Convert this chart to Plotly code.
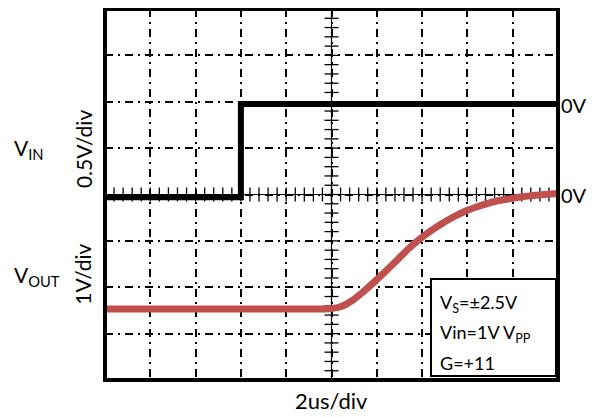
import plotly.graph_objects as go

# ---- data (time in us, traces in screen divisions) ----
vin_t = [0, 6.0, 6.0, 20]
vin_div = [-0.06, -0.06, 1.95, 1.95]

vout_t = [0, 2, 4, 6, 8, 9.5, 10.0, 10.4, 10.9, 11.4, 11.9, 12.4, 12.9, 13.4,
          13.9, 14.4, 14.9, 15.4, 15.9, 16.4, 16.9, 17.4, 17.9, 18.4, 18.9,
          19.4, 20]
vout_div = [-2.47, -2.47, -2.47, -2.47, -2.47, -2.47, -2.46, -2.42, -2.29,
            -2.10, -1.88, -1.65, -1.41, -1.17, -0.96, -0.78, -0.62, -0.48,
            -0.36, -0.27, -0.19, -0.13, -0.09, -0.05, -0.02, 0.0, 0.02]

x_range = [0, 20]
y_range = [-4, 4]
x_step = 2
y_step = 1

FONT = "Lato"
fig = go.Figure()

# centre axes with fine ticks
fig.add_trace(go.Scatter(x=x_range, y=[0, 0], mode="lines",
                         line=dict(color="black", width=1.2), hoverinfo="skip"))
fig.add_trace(go.Scatter(x=[10, 10], y=y_range, mode="lines",
                         line=dict(color="black", width=1.2), hoverinfo="skip"))
tx = [i * x_step / 5 for i in range(1, 50)]
fig.add_trace(go.Scatter(x=tx, y=[0] * len(tx), mode="markers",
                         marker=dict(symbol="line-ns", size=10,
                                     line=dict(width=1.3, color="black")),
                         hoverinfo="skip"))
ty = [-4 + i * y_step / 5 for i in range(1, 40)]
fig.add_trace(go.Scatter(x=[10] * len(ty), y=ty, mode="markers",
                         marker=dict(symbol="line-ew", size=10,
                                     line=dict(width=1.3, color="black")),
                         hoverinfo="skip"))

# signals
fig.add_trace(go.Scatter(x=vout_t, y=vout_div, mode="lines",
                         line=dict(color="#c0504d", width=7, shape="spline",
                                   smoothing=0.5)))
fig.add_trace(go.Scatter(x=vin_t, y=vin_div, mode="lines",
                         line=dict(color="black", width=6)))

dash = "8px,5px,2px,5px"
fig.update_xaxes(range=x_range, dtick=x_step, tick0=0, showgrid=True,
                 gridcolor="black", gridwidth=2, griddash=dash,
                 showticklabels=False, zeroline=False, ticks="")
fig.update_yaxes(range=y_range, dtick=y_step, tick0=-4, showgrid=True,
                 gridcolor="black", gridwidth=2, griddash=dash,
                 showticklabels=False, zeroline=False, ticks="")

shapes = [
    dict(type="rect", xref="paper", yref="paper", x0=0, y0=0, x1=1, y1=1,
         line=dict(color="black", width=4), layer="above"),
    dict(type="rect", xref="paper", yref="paper", x0=0.7196, y0=0.011,
         x1=0.9956, y1=0.272, line=dict(color="black", width=2),
         fillcolor="white", layer="above"),
]

def fnt(size):
    return dict(family=FONT, size=size, color="black")

ann = [
    dict(text="V<sub>IN</sub>", x=-0.205, y=0.98, xref="paper", yref="y",
         xanchor="left", yanchor="middle", showarrow=False, font=fnt(21)),
    dict(text="V<sub>OUT</sub>", x=-0.205, y=-1.75, xref="paper", yref="y",
         xanchor="left", yanchor="middle", showarrow=False, font=fnt(21)),
    dict(text="0.5V/div", x=-0.0486, y=1.0, xref="paper", yref="y",
         xanchor="center", yanchor="middle", textangle=-90,
         showarrow=False, font=fnt(21)),
    dict(text="1V/div", x=-0.0486, y=-1.71, xref="paper", yref="y",
         xanchor="center", yanchor="middle", textangle=-90,
         showarrow=False, font=fnt(21)),
    dict(text="0V", x=1, y=1.94, xref="paper", yref="y", xanchor="left",
         yanchor="middle", xshift=1, showarrow=False, font=fnt(20)),
    dict(text="0V", x=1, y=0.0, xref="paper", yref="y", xanchor="left",
         yanchor="middle", xshift=1, showarrow=False, font=fnt(20)),
    dict(text="2us/div", x=0.5, y=-0.055, xref="paper", yref="paper",
         xanchor="center", yanchor="middle", showarrow=False, font=fnt(22)),
    dict(text="V<sub>S</sub>=±2.5V", x=0.735, y=0.205, xref="paper",
         yref="paper", xanchor="left", yanchor="middle", showarrow=False,
         font=fnt(18)),
    dict(text="Vin=1V V<sub>PP</sub>", x=0.735, y=0.125, xref="paper",
         yref="paper", xanchor="left", yanchor="middle", showarrow=False,
         font=fnt(18)),
    dict(text="G=+11", x=0.735, y=0.046, xref="paper", yref="paper",
         xanchor="left", yanchor="middle", showarrow=False, font=fnt(18)),
]

# page body adds an 8px offset; size and margins compensate for it
fig.update_layout(width=589, height=409, showlegend=False,
                  margin=dict(l=97, r=39, t=1, b=37, autoexpand=False),
                  plot_bgcolor="white", paper_bgcolor="white",
                  shapes=shapes, annotations=ann, font=fnt(18))

fig.write_html("out.html")
